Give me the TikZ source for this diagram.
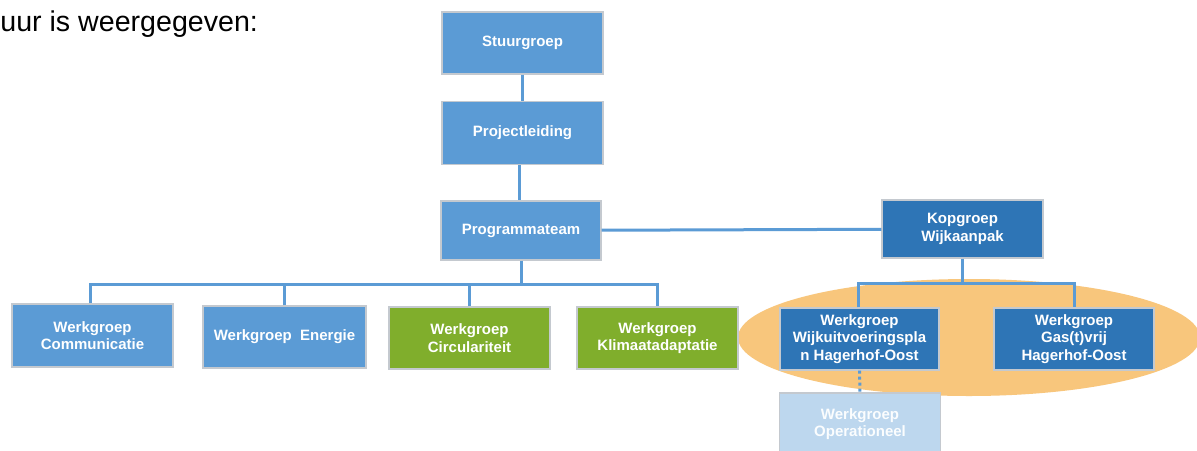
\documentclass[tikz,border=0pt]{standalone}
\usepackage{fontspec}
\setmainfont{Liberation Sans}
\definecolor{lblue}{HTML}{5B9BD5}
\definecolor{dblue}{HTML}{2E75B6}
\definecolor{lgreen}{HTML}{80AE2C}
\definecolor{pblue}{HTML}{BDD7EE}
\definecolor{ovl}{HTML}{F8C67C}
\definecolor{bordergray}{HTML}{C4C9CF}
\definecolor{conn}{HTML}{5B9BD5}
\begin{document}
\begin{tikzpicture}[x=0.5pt,y=-0.5pt,
  box/.style={draw=bordergray, line width=0.6pt, text=white, font=\bfseries\fontsize{7.5pt}{8.75pt}\selectfont, align=center, inner sep=0pt, minimum width=80.5pt, minimum height=31pt},
  bluebox/.style={box, fill=lblue},
  darkbox/.style={box, fill=dblue},
  greenbox/.style={box, fill=lgreen},
  palebox/.style={box, fill=pblue, text=white!94!pblue},
  link/.style={draw=conn, line width=1.5pt},
  dotlink/.style={draw=conn, line width=1.5pt, dash pattern=on 1.5pt off 1.5pt}]
\useasboundingbox (0,0) rectangle (1197,450);
\fill[white] (0,0) rectangle (1197,450);
\node[anchor=base west, font=\fontsize{14.3pt}{16pt}\selectfont, inner sep=0pt] (intro) at (0,31) {uur is weergegeven:};
% highlight ellipse
\fill[ovl] (969,337.5) ellipse [x radius=115.5pt, y radius=29.25pt];
% boxes
\node[bluebox] (stuur) at (522.5,43) {Stuurgroep};
\node[bluebox, minimum height=31.5pt] (proj) at (522.5,133) {Projectleiding};
\node[bluebox, minimum width=80pt, minimum height=29.5pt] (prog) at (521,230.5) {Programmateam};
\node[darkbox, minimum height=29pt] (kop) at (962.5,229) {Kopgroep\\Wijkaanpak};
\node[bluebox, minimum height=31.5pt] (comm) at (92.5,335.5) {Werkgroep\\Communicatie};
\node[bluebox, minimum width=81.5pt] (ener) at (284.5,337) {Werkgroep~~Energie};
\node[greenbox] (circ) at (469.5,338) {Werkgroep\\Circulariteit};
\node[greenbox] (klim) at (657.5,338) {Werkgroep\\Klimaatadaptatie};
\node[darkbox, minimum width=79.5pt] (wijk) at (859.5,339) {Werkgroep\\Wijkuitvoeringspla\\n Hagerhof-Oost};
\node[darkbox, minimum width=80pt] (gas) at (1074,339) {Werkgroep\\Gas(t)vrij\\Hagerhof-Oost};
\node[palebox] (oper) at (860,424) {Werkgroep\\Operationeel};
% junction coordinates
\coordinate (jL) at (519,284);
\coordinate (jR) at (962.5,283);
% connectors
\draw[link] (stuur) -- (proj);
\draw[link] ([xshift=-0.75pt]prog.north |- proj.south) -- ([xshift=-0.75pt]prog.north);
\draw[link] (prog) -- (kop);
\draw[link] (prog.south) -- (prog.south |- jL);
\draw[link] ([xshift=-1pt]comm.north) -- ([xshift=-1pt]comm.north |- jL) -- (klim.north |- jL) -- (klim.north);
\draw[link] (ener.north) -- (ener.north |- jL);
\draw[link] (circ.north) -- (circ.north |- jL);
\draw[link] (kop.south) -- (kop.south |- jR);
\draw[link] ([xshift=-0.5pt]wijk.north) -- ([xshift=-0.5pt]wijk.north |- jR) -- (gas.north |- jR) -- (gas.north);
\draw[dotlink] (wijk.south) -- (oper.north);
\end{tikzpicture}
\end{document}
